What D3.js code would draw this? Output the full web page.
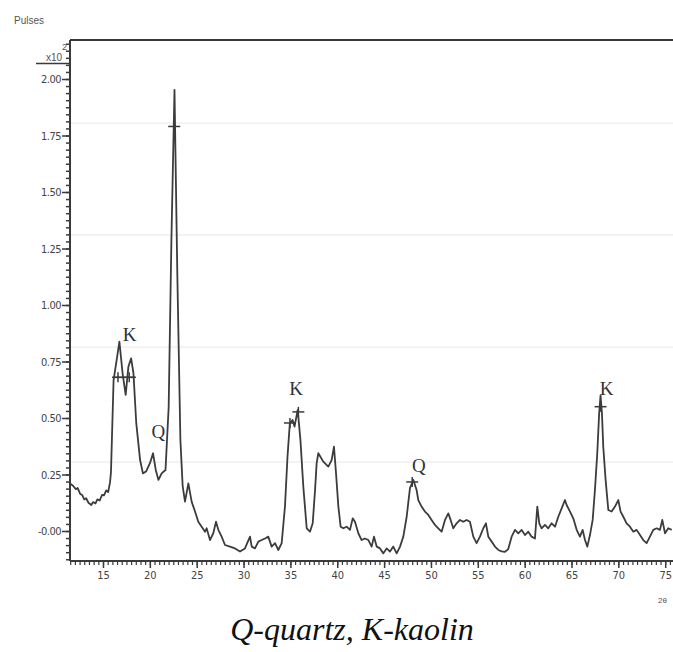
<!DOCTYPE html>
<html>
<head>
<meta charset="utf-8">
<script src="https://cdn.jsdelivr.net/npm/d3@7"></script>
<style>
  html, body { margin: 0; padding: 0; background: #fff; }
  svg { display: block; }
</style>
</head>
<body>
<svg id="chart" width="673" height="652"></svg>
<script>
// ---- data (2θ in degrees, intensity in pulses ×10²) ----
const twoTheta = [11.45,11.8,12.1,12.3,12.55,12.8,13.0,13.2,13.45,13.75,13.95,14.2,14.4,14.65,14.9,15.1,15.35,15.55,15.75,15.85,16.13,16.46,16.75,17.09,17.42,17.71,18.0,18.25,18.55,18.96,19.26,19.59,20.01,20.34,20.63,20.92,21.26,21.67,22.01,22.3,22.63,22.93,23.26,23.5,23.75,24.11,24.46,24.82,25.17,25.53,25.89,26.06,26.42,26.77,27.06,27.31,27.66,28.02,28.55,29.09,29.62,30.15,30.69,30.87,31.22,31.58,31.93,32.29,32.64,33.0,33.36,33.71,34.07,34.42,34.69,34.94,35.23,35.44,35.78,36.07,36.38,36.74,37.09,37.38,37.63,37.8,37.98,38.51,39.05,39.4,39.65,39.87,40.12,40.36,40.65,41.0,41.36,41.65,41.89,42.25,42.6,42.96,43.32,43.67,43.92,44.21,44.56,44.92,45.27,45.63,45.98,46.34,46.7,47.05,47.41,47.76,48.12,48.47,48.65,49.0,49.36,49.72,50.07,50.43,50.78,51.14,51.5,51.85,52.1,52.38,52.74,53.1,53.45,53.81,54.16,54.52,54.87,55.23,55.59,55.87,56.12,56.48,56.83,57.19,57.54,57.9,58.25,58.61,58.97,59.32,59.68,60.03,60.39,60.74,61.1,61.35,61.56,61.81,62.17,62.52,62.88,63.24,63.59,63.95,64.3,64.48,64.84,65.19,65.55,65.9,66.19,66.44,66.69,66.97,67.26,67.5,67.75,67.95,68.1,68.25,68.39,68.64,68.93,69.28,69.64,69.99,70.24,70.53,70.88,71.24,71.6,71.95,72.31,72.66,73.02,73.37,73.73,74.09,74.44,74.69,74.98,75.33,75.69];
const pulses = [0.211,0.200,0.185,0.190,0.165,0.158,0.140,0.145,0.125,0.115,0.128,0.122,0.140,0.135,0.160,0.158,0.180,0.172,0.215,0.260,0.668,0.757,0.838,0.698,0.602,0.727,0.764,0.698,0.477,0.314,0.255,0.263,0.300,0.344,0.270,0.226,0.255,0.270,0.550,1.288,1.952,1.140,0.403,0.200,0.130,0.211,0.130,0.086,0.041,0.019,-0.003,0.012,-0.040,-0.010,0.041,0.005,-0.025,-0.062,-0.069,-0.077,-0.091,-0.077,-0.025,-0.069,-0.077,-0.047,-0.040,-0.033,-0.025,-0.069,-0.054,-0.084,-0.054,0.108,0.329,0.477,0.491,0.462,0.536,0.403,0.196,0.012,-0.003,0.034,0.181,0.299,0.344,0.307,0.285,0.314,0.373,0.255,0.108,0.019,0.012,0.019,0.005,0.056,0.041,-0.010,-0.040,-0.033,-0.040,-0.069,-0.025,-0.069,-0.077,-0.099,-0.077,-0.091,-0.069,-0.099,-0.069,-0.025,0.063,0.190,0.226,0.181,0.137,0.108,0.086,0.071,0.049,0.027,0.012,-0.003,0.049,0.078,0.049,0.012,0.034,0.049,0.041,0.049,0.041,-0.025,-0.054,-0.025,0.012,0.034,-0.025,-0.047,-0.069,-0.084,-0.090,-0.092,-0.080,-0.025,0.005,-0.010,0.005,-0.018,-0.003,-0.025,-0.033,0.108,0.034,0.012,0.027,0.012,0.034,0.019,0.063,0.100,0.137,0.115,0.086,0.056,0.005,-0.025,0.005,-0.040,-0.069,-0.018,0.049,0.181,0.344,0.520,0.600,0.520,0.373,0.226,0.093,0.086,0.108,0.137,0.086,0.063,0.034,0.019,-0.003,0.005,-0.018,-0.040,-0.054,-0.025,0.005,0.012,0.005,0.049,-0.010,0.012,0.005];

const yTicks = [2.00,1.75,1.50,1.25,1.00,0.75,0.50,0.25,0.00];
const yTickLabels = ["2.00","1.75","1.50","1.25","1.00","0.75","0.50","0.25","-0.00"];
const xTicks = [15,20,25,30,35,40,45,50,55,60,65,70,75];
const gridValues = [1.805,1.31,0.814,0.305];

// phase labels and peak markers
const phaseLabels = [
  {text:"K", t:17.85, v:0.84},
  {text:"Q", t:20.9,  v:0.41},
  {text:"K", t:35.6,  v:0.60},
  {text:"Q", t:48.7,  v:0.26},
  {text:"K", t:68.75, v:0.60}
];
const peakMarks = [
  {t:16.6, v:0.68}, {t:17.8, v:0.68},
  {t:22.6, v:1.79},
  {t:34.95, v:0.478}, {t:35.85, v:0.527},
  {t:48.0, v:0.217},
  {t:68.1, v:0.55}
];
const markBar = {t0:16.1, t1:18.5, v:0.68};
const caption = "Q-quartz, K-kaolin";

// ---- layout ----
const svg = d3.select("#chart");
const x = d3.scaleLinear().domain([15, 75]).range([103, 665.2]);
const y = d3.scaleLinear().domain([0, 2]).range([531, 79]);
const pLeft = 70, pTop = 40, pBottom = 561, pRight = 673;

const ink = "#3a3a3a";

// faint grid lines
svg.append("g").selectAll("line").data(gridValues).join("line")
  .attr("x1", pLeft).attr("x2", pRight)
  .attr("y1", d => y(d)).attr("y2", d => y(d))
  .attr("stroke", "#ececec").attr("stroke-width", 1.2);

// top frame
svg.append("line").attr("x1", pLeft).attr("x2", pRight).attr("y1", pTop).attr("y2", pTop)
  .attr("stroke", ink).attr("stroke-width", 2);

// y axis
const yMinor = d3.range(-0.125, 2.17, 0.03125);
const yAxis = svg.append("g").attr("transform", `translate(${pLeft},0)`)
  .call(d3.axisLeft(y).tickValues(yMinor).tickSize(4).tickFormat(""));
yAxis.select(".domain").remove();
yAxis.selectAll("line").attr("stroke", ink).attr("stroke-width", 1.5);
const yMaj = svg.append("g").attr("transform", `translate(${pLeft},0)`)
  .call(d3.axisLeft(y).tickValues(yTicks).tickSize(8).tickPadding(1)
        .tickFormat((d,i) => yTickLabels[i]));
yMaj.select(".domain").remove();
yMaj.selectAll("line").attr("stroke", ink).attr("stroke-width", 1.5);
yMaj.selectAll("text").attr("font-family", "'Liberation Sans Narrow','DejaVu Sans Condensed',sans-serif")
  .attr("font-size", 11).attr("fill", "#444").attr("letter-spacing", "-0.5");
svg.append("line").attr("x1", pLeft).attr("x2", pLeft).attr("y1", pTop).attr("y2", pBottom)
  .attr("stroke", ink).attr("stroke-width", 2);

// x axis
const xMinor = d3.range(11.5, 76, 0.5);
const xAxis = svg.append("g").attr("transform", `translate(0,${pBottom})`)
  .call(d3.axisBottom(x).tickValues(xMinor).tickSize(4).tickFormat(""));
xAxis.select(".domain").remove();
xAxis.selectAll("line").attr("stroke", ink).attr("stroke-width", 1.2);
const xMaj = svg.append("g").attr("transform", `translate(0,${pBottom})`)
  .call(d3.axisBottom(x).tickValues(xTicks).tickSize(7).tickPadding(3).tickFormat(d3.format("d")));
xMaj.select(".domain").remove();
xMaj.selectAll("line").attr("stroke", ink).attr("stroke-width", 1.5);
xMaj.selectAll("text").attr("font-family", "'Liberation Sans Narrow','DejaVu Sans Condensed',sans-serif")
  .attr("font-size", 11).attr("fill", "#444");
svg.append("line").attr("x1", pLeft).attr("x2", pRight).attr("y1", pBottom).attr("y2", pBottom)
  .attr("stroke", ink).attr("stroke-width", 2);

// data line
const pts = twoTheta.map((t, i) => [t, pulses[i]]);
svg.append("path").datum(pts)
  .attr("fill", "none").attr("stroke", "#3c3c3c").attr("stroke-width", 1.8)
  .attr("stroke-linejoin", "round")
  .attr("d", d3.line().x(d => x(d[0])).y(d => y(d[1])));

// peak markers
svg.append("line").attr("x1", x(markBar.t0)).attr("x2", x(markBar.t1))
  .attr("y1", y(markBar.v)).attr("y2", y(markBar.v))
  .attr("stroke", ink).attr("stroke-width", 1.5);
const pm = svg.append("g").selectAll("g").data(peakMarks).join("g")
  .attr("transform", d => `translate(${x(d.t)},${y(d.v)})`);
pm.append("line").attr("x1", -6).attr("x2", 6).attr("stroke", ink).attr("stroke-width", 1.5);
pm.append("line").attr("y1", -5).attr("y2", 5).attr("stroke", ink).attr("stroke-width", 1.5);

// phase labels
svg.append("g").selectAll("text").data(phaseLabels).join("text")
  .attr("x", d => x(d.t)).attr("y", d => y(d.v))
  .attr("text-anchor", "middle")
  .attr("font-family", "'Liberation Serif','Times New Roman',serif")
  .attr("font-size", 19).attr("fill", "#333")
  .text(d => d.text);

// axis annotations
svg.append("text").attr("x", 14).attr("y", 24)
  .attr("font-family", "'Liberation Sans Narrow',sans-serif").attr("font-size", 10).attr("fill", "#555")
  .text("Pulses");
svg.append("text").attr("x", 46).attr("y", 61)
  .attr("font-family", "'Liberation Sans Narrow',sans-serif").attr("font-size", 10).attr("fill", "#555")
  .text("x10");
svg.append("text").attr("x", 62).attr("y", 50)
  .attr("font-family", "'Liberation Sans Narrow',sans-serif").attr("font-size", 9).attr("fill", "#555")
  .text("2");
svg.append("line").attr("x1", 36).attr("x2", pLeft).attr("y1", 63.5).attr("y2", 63.5)
  .attr("stroke", ink).attr("stroke-width", 1.5);
svg.append("text").attr("x", 658).attr("y", 603)
  .attr("font-family", "'Liberation Sans Narrow',sans-serif").attr("font-size", 8).attr("fill", "#555")
  .text("2θ");

// caption
svg.append("text").attr("x", 352).attr("y", 640)
  .attr("text-anchor", "middle")
  .attr("font-family", "'Liberation Serif','Times New Roman',serif")
  .attr("font-style", "italic").attr("font-size", 32).attr("fill", "#111")
  .text(caption);
</script>
</body>
</html>
